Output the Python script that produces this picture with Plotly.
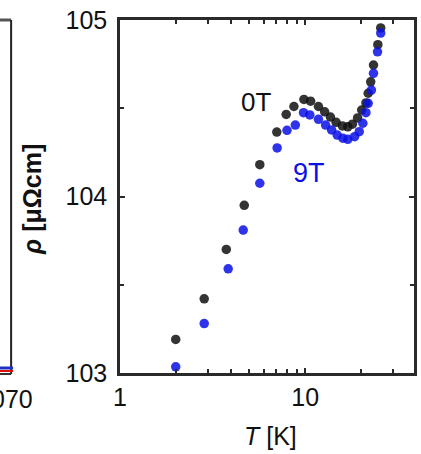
import plotly.graph_objects as go
import math

# ---- data ----
T_0T = [2.0, 2.85, 3.75, 4.69, 5.69, 7.03, 7.9, 8.7, 9.85, 10.7, 11.8, 12.75, 13.7, 14.7,
        15.9, 17.0, 18.0, 19.2, 20.2, 21.3, 21.9, 22.6, 23.4, 24.7, 25.6]
rho_0T = [103.19, 103.42, 103.70, 103.95, 104.18, 104.365, 104.465, 104.51, 104.55, 104.54,
          104.51, 104.48, 104.45, 104.42, 104.40, 104.395, 104.41, 104.445, 104.49, 104.53,
          104.585, 104.65, 104.745, 104.86, 104.955]
T_9T = [2.0, 2.85, 3.84, 4.63, 5.69, 7.06, 7.98, 8.85, 9.8, 10.6, 11.8, 12.9, 13.9, 14.9,
        16.0, 17.0, 18.5, 19.6, 20.5, 21.3, 21.9, 22.8, 23.4, 24.6, 25.6]
rho_9T = [103.035, 103.28, 103.59, 103.81, 104.075, 104.275, 104.375, 104.405, 104.475,
          104.462, 104.437, 104.405, 104.377, 104.348, 104.33, 104.324, 104.339, 104.367,
          104.415, 104.475, 104.528, 104.603, 104.698, 104.82, 104.926]

x_tickvals = [1, 10]
x_ticktext = ["1", "10"]
x_minor = [2, 3, 4, 5, 6, 7, 8, 9, 20, 30]
y_tickvals = [103, 104, 105]
y_ticktext = ["103", "104", "105"]
y_minor = [103.5, 104.5]

FONT = "Liberation Sans, Arial, sans-serif"
AX = "#2a2a2a"

W, H = 421, 454
ML, MR, MT, MB = 120, 4, 20, 81
PW = W - ML - MR
PH = H - MT - MB

def px(xp):
    return (xp - ML) / PW

def py(yp):
    return (H - MB - yp) / PH

fig = go.Figure()
fig.add_trace(go.Scatter(x=T_0T, y=rho_0T, mode="markers", name="0T",
                         marker=dict(color="#111111", size=9.5, opacity=0.85, line=dict(width=0))))
fig.add_trace(go.Scatter(x=T_9T, y=rho_9T, mode="markers", name="9T",
                         marker=dict(color="#0a10e6", size=9.5, opacity=0.85, line=dict(width=0))))

axis_common = dict(showline=True, linecolor=AX, linewidth=2.5, mirror="ticks",
                   ticks="inside", ticklen=5, tickwidth=2, tickcolor=AX,
                   showgrid=False, zeroline=False,
                   tickfont=dict(family=FONT, size=25, color="#111"))

fig.update_xaxes(type="log", range=[0, 1.588], tickvals=x_tickvals, ticktext=x_ticktext,
                 ticklabelstandoff=0,
                 minor=dict(ticks="inside", ticklen=4, tickwidth=2, tickcolor=AX,
                            tickvals=x_minor, showgrid=False),
                 **axis_common)
fig.update_yaxes(range=[103, 105], tickvals=y_tickvals, ticktext=y_ticktext,
                 ticklabelstandoff=5,
                 minor=dict(ticks="inside", ticklen=4, tickwidth=2, tickcolor=AX,
                            tickvals=y_minor, showgrid=False),
                 **axis_common)

annotations = [
    dict(x=math.log10(5.44), y=104.538, xref="x", yref="y", text="0T", showarrow=False,
         font=dict(family=FONT, size=26, color="#111")),
    dict(x=math.log10(10.5), y=104.133, xref="x", yref="y", text="9T", showarrow=False,
         font=dict(family=FONT, size=27, color="#0a10e6")),
    dict(x=px(31), y=py(199), xref="paper", yref="paper", text="<b><i>ρ</i> [μΩcm]</b>",
         xanchor="center", yanchor="middle",
         textangle=-90, showarrow=False, font=dict(family=FONT, size=25, color="#111")),
    dict(x=px(272), y=py(436), xref="paper", yref="paper", text="<i>T</i> [K]",
         xanchor="center", yanchor="middle",
         showarrow=False, font=dict(family=FONT, size=25, color="#111")),
    dict(x=px(34), y=py(399), xref="paper", yref="paper", text="070", xanchor="right",
         yanchor="middle",
         showarrow=False, font=dict(family=FONT, size=25, color="#111")),
]

shapes = [
    # partial left panel frame
    dict(type="line", xref="paper", yref="paper", x0=px(-2), x1=px(10), y0=py(20), y1=py(20),
         line=dict(color="#555", width=3)),
    dict(type="line", xref="paper", yref="paper", x0=px(10), x1=px(10), y0=py(20), y1=py(374),
         line=dict(color="#222", width=2)),
    dict(type="line", xref="paper", yref="paper", x0=px(-2), x1=px(10), y0=py(374), y1=py(374),
         line=dict(color="#333", width=2)),
    dict(type="line", xref="paper", yref="paper", x0=px(-2), x1=px(12), y0=py(368), y1=py(368),
         line=dict(color="#2030c0", width=3)),
    dict(type="line", xref="paper", yref="paper", x0=px(-2), x1=px(12), y0=py(371), y1=py(371),
         line=dict(color="#e01010", width=2)),
]

fig.update_layout(width=W, height=H, margin=dict(l=ML, r=MR, t=MT, b=MB),
                  paper_bgcolor="white", plot_bgcolor="white", showlegend=False,
                  annotations=annotations, shapes=shapes)

fig.write_html("out.html")
